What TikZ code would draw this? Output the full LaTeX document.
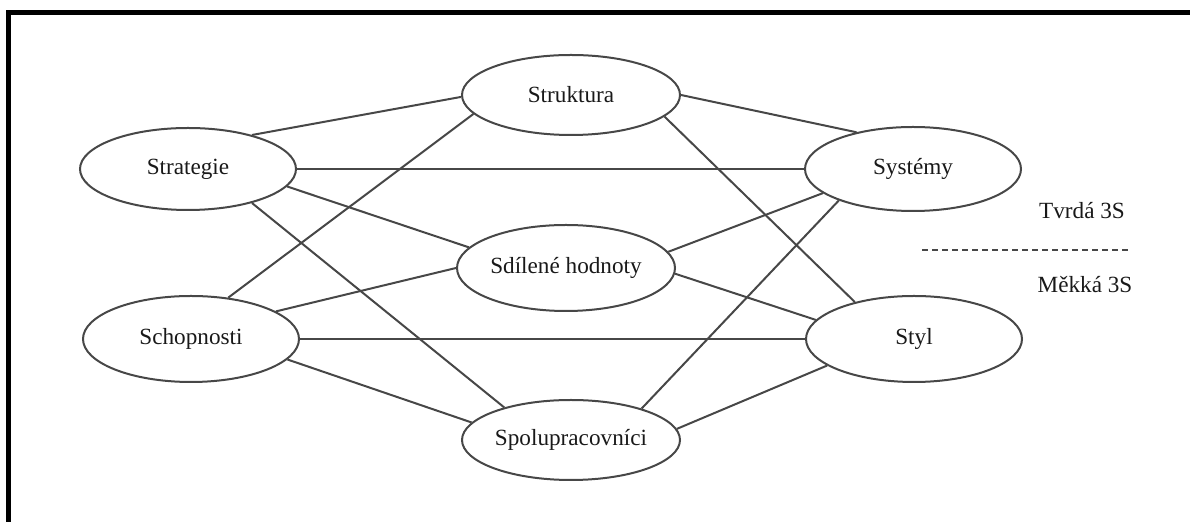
\documentclass[tikz,border=0pt]{standalone}
\usepackage{fontspec}
\setmainfont{Liberation Serif}
\usetikzlibrary{shapes.geometric}
\begin{document}
\begin{tikzpicture}[x=0.5pt,y=-0.5pt,
  oval/.style={ellipse,draw=black!72,line width=1pt,inner sep=0pt,
    minimum width=108pt,minimum height=41pt,text=black!90,
    font=\fontsize{11.6}{13}\selectfont},
  link/.style={draw=black!72,line width=1pt},
  label/.style={text=black!90,font=\fontsize{11.6}{13}\selectfont}]
\useasboundingbox (0,0) rectangle (1190,522);
% frame on left and top
\draw[line width=2.5pt,miter limit=4] (8.5,522) -- (8.5,12.5) -- (1190,12.5);

% the seven elements
\node[oval] (strat) at (188,169) {Strategie};
\node[oval,minimum height=43pt] (schop) at (191,339) {Schopnosti};
\node[oval,minimum width=109pt,minimum height=40pt] (strukt) at (571,95) {Struktura};
\node[oval,minimum width=109pt,minimum height=43pt] (sdil) at (566,268) {Sdílené hodnoty};
\node[oval,minimum width=109pt,minimum height=40pt] (spol) at (571,440) {Spolupracovníci};
\node[oval,minimum height=42pt] (syst) at (913,169) {Systémy};
\node[oval,minimum height=43pt] (styl) at (914,339) {Styl};

% connections
\draw[link] (strat.28.7) -- (strukt.181);
\draw[link] (strat.east) -- (syst.west);
\draw[link] (strat.-10.5) -- (sdil.168);
\draw[link] (strat.-28.7) -- (spol.154.8);
\draw[link] (schop.48.6) -- (strukt.191.4);
\draw[link] (schop.18) -- (sdil.180);
\draw[link] (schop.east) -- (styl.west);
\draw[link] (schop.-12.8) -- (spol.170);
\draw[link] (strukt.0) -- (syst.147.5);
\draw[link] (strukt.-13.6) -- (styl.148.4);
\draw[link] (sdil.9) -- (syst.195);
\draw[link] (sdil.-3.7) -- (styl.169);
\draw[link] (spol.24.9) -- (syst.203);
\draw[link] (spol.6) -- (styl.197.4);

% hard / soft split
\node[label] (tvrda) at (1082,211) {Tvrdá 3S};
\node[label] (mekka) at (1085,285) {Měkká 3S};
\coordinate (d1) at (922,250);
\coordinate (d2) at (1128,250);
\draw[draw=black!72,line width=0.6pt,dash pattern=on 3pt off 2pt] (d1) -- (d2);
\end{tikzpicture}
\end{document}
